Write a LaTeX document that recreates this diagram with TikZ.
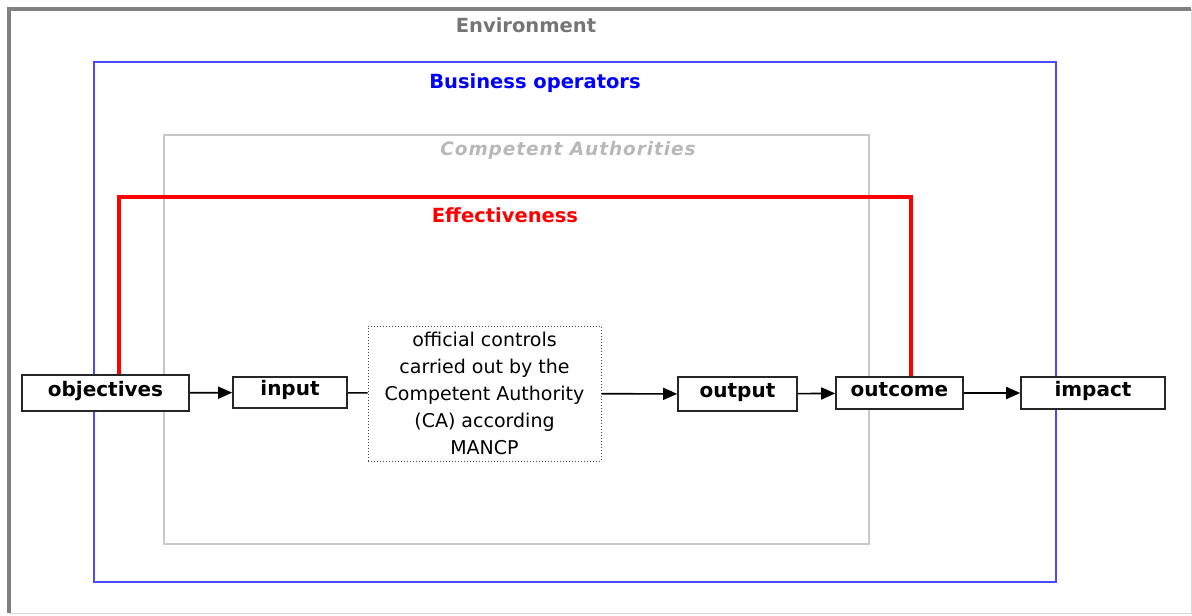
\documentclass[tikz,border=0pt]{standalone}
\usepackage{fontspec}
\setmainfont{DejaVu Sans}
\usepackage{xcolor}
\usetikzlibrary{arrows.meta}

\definecolor{envgray}{HTML}{808080}
\definecolor{envtext}{HTML}{757575}
\definecolor{bopblue}{HTML}{4A4AFF}
\definecolor{cagray}{HTML}{C8C8C8}
\definecolor{catext}{HTML}{B8B8B8}

\tikzset{
  stage/.style={draw=black!85, line width=1.6pt, fill=white, inner sep=0pt,
                font=\fontsize{20}{24}\selectfont\bfseries,
                text height=13pt, text depth=7pt},
  flow/.style={line width=1.6pt, -{Triangle[length=14pt,width=12pt]}},
  title/.style={font=\fontsize{19.5}{23}\selectfont\bfseries}
}

\begin{document}
\begin{tikzpicture}[x=1pt,y=-1pt]
  \useasboundingbox (0,0) rectangle (1192,616);

  % frames
  \draw[cagray!70, line width=1pt] (9,9) rectangle (1191,613);
  \draw[envgray, line width=4pt] (9,613) -- (9,9) -- (1191,9);
  \draw[bopblue, line width=2pt] (94,62) rectangle (1056,582);
  \draw[cagray, line width=2pt] (164,135) rectangle (869,544);

  \node[title, text=envtext] (env) at (526,25) {Environment};
  \node[title, text=blue] (bop) at (535,83) {Business operators};
  \node[title, text=catext, font=\fontsize{18.5}{23}\selectfont\bfseries\itshape\addfontfeatures{LetterSpace=5}] (ca) at (568,150) {Competent Authorities};
  \node[title, text=red] (eff) at (505,215) {Effectiveness};

  % chain
  \node[stage, minimum width=167pt, minimum height=36pt] (objectives) at (105.5,393) {objectives};
  \node[stage, minimum width=114pt, minimum height=31pt] (input) at (290,392.5) {input};
  \node[draw=black!70, dotted, line width=1pt, fill=white, inner sep=0pt,
        minimum width=233pt, minimum height=135pt, align=center,
        font=\fontsize{19}{27}\selectfont] (controls) at (484.5,393.5)
        {official controls\\carried out by the\\Competent Authority\\(CA) according\\MANCP};
  \node[stage, minimum width=119pt, minimum height=34pt] (output) at (737.5,394) {output};
  \node[stage, minimum width=127pt, minimum height=32pt] (outcome) at (899.5,393) {outcome};
  \node[stage, minimum width=144pt, minimum height=32pt] (impact) at (1093,393) {impact};

  \draw[red, line width=4.5pt] ([xshift=13.5pt]objectives.north) -- ++(0,-177) -| ([xshift=11.5pt]outcome.north);

  \draw[flow] (objectives) -- (input);
  \draw[line width=1.6pt] (input) -- (controls);
  \draw[flow] (controls) -- (output);
  \draw[flow] (output) -- (outcome);
  \draw[flow] (outcome) -- (impact);
\end{tikzpicture}
\end{document}
